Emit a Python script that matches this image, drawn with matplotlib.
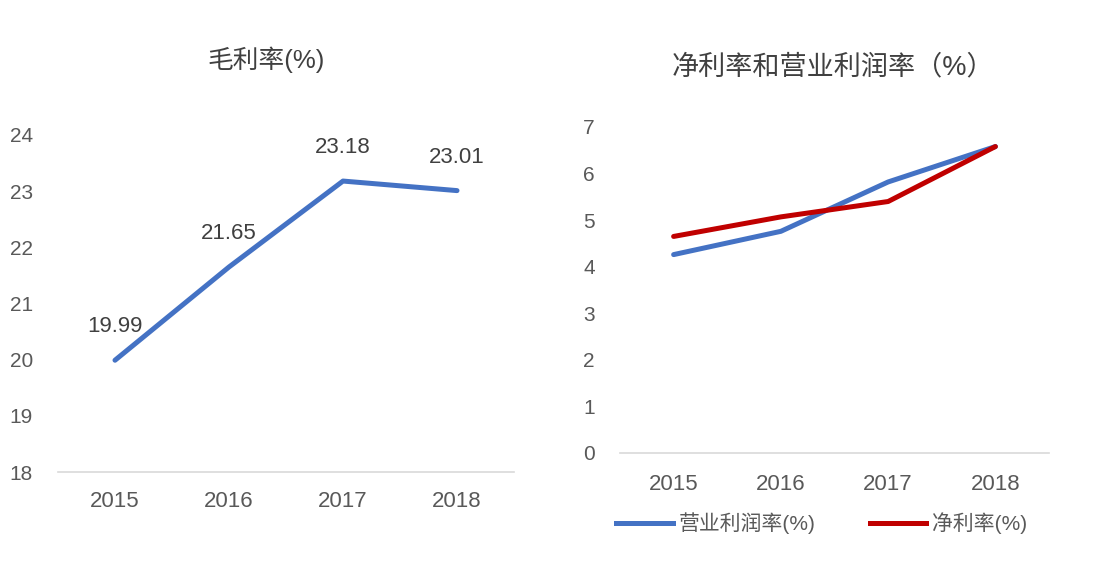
import matplotlib
matplotlib.use("Agg")
import matplotlib.pyplot as plt
from matplotlib.lines import Line2D

plt.rcParams['font.family'] = ['Liberation Sans', 'Noto Sans CJK SC', 'DejaVu Sans']

years = ['2015', '2016', '2017', '2018']
gross_margin = [19.99, 21.65, 23.18, 23.01]
operating_margin = [4.26, 4.76, 5.82, 6.58]
net_margin = [4.65, 5.07, 5.40, 6.58]

left_title = '毛利率(%)'
right_title = '净利率和营业利润率（%）'
legend_labels = ['营业利润率(%)', '净利率(%)']

W, H = 1102, 573
fig = plt.figure(figsize=(W / 100, H / 100), dpi=100)
fig.patch.set_facecolor('white')

BLUE = '#4472C4'
RED = '#C00000'
GRAY = '#595959'
AXIS = '#D9D9D9'


def px_axes(x0, x1, ytop, ybot):
    return fig.add_axes([x0 / W, 1 - ybot / H, (x1 - x0) / W, (ybot - ytop) / H])


def style(ax):
    for s in ['top', 'right', 'left']:
        ax.spines[s].set_visible(False)
    ax.spines['bottom'].set_color(AXIS)
    ax.spines['bottom'].set_linewidth(1.2)
    ax.tick_params(axis='both', length=0, colors=GRAY)
    ax.tick_params(axis='x', labelsize=16, pad=14)
    ax.tick_params(axis='y', labelsize=15, pad=18)
    ax.set_facecolor('none')


x = range(len(years))

# left chart
ax1 = px_axes(58, 514, 135, 472)
style(ax1)
ax1.plot(x, gross_margin, color=BLUE, lw=3.6, solid_capstyle='round', zorder=3)
ax1.set_xlim(-0.5, 3.5)
ax1.set_ylim(18, 24)
ax1.set_yticks(range(18, 25))
ax1.set_xticks(list(x))
ax1.set_xticklabels(years)
for xi, v in zip(x, gross_margin):
    ax1.annotate(f'{v:.2f}', (xi, v), xytext=(0, 24), textcoords='offset points',
                 ha='center', va='center', fontsize=16, color='#404040')
fig.text(266 / W, 1 - 60 / H, left_title, ha='center', va='center', fontsize=18.5,
         color='#404040')

# right chart
ax2 = px_axes(620, 1049, 127, 453)
style(ax2)
ax2.plot(x, operating_margin, color=BLUE, lw=3.6, solid_capstyle='round', zorder=3)
ax2.plot(x, net_margin, color=RED, lw=3.6, solid_capstyle='round', zorder=4)
ax2.set_xlim(-0.5, 3.5)
ax2.set_ylim(0, 7)
ax2.set_yticks(range(0, 8))
ax2.set_xticks(list(x))
ax2.set_xticklabels(years)
ax2.tick_params(axis='x', pad=15)
fig.text(833 / W, 1 - 67 / H, right_title, ha='center', va='center', fontsize=19.5,
         color='#404040')

handles = [Line2D([], [], color=BLUE, lw=3.6), Line2D([], [], color=RED, lw=3.6)]
fig.legend(handles, legend_labels, loc='center', bbox_to_anchor=(822 / W, 1 - 523 / H),
           ncol=2, frameon=False, fontsize=15, handlelength=2.7, handletextpad=0.3,
           columnspacing=2.6, labelcolor=GRAY)

fig.savefig('out.png', dpi=100, facecolor='white')
